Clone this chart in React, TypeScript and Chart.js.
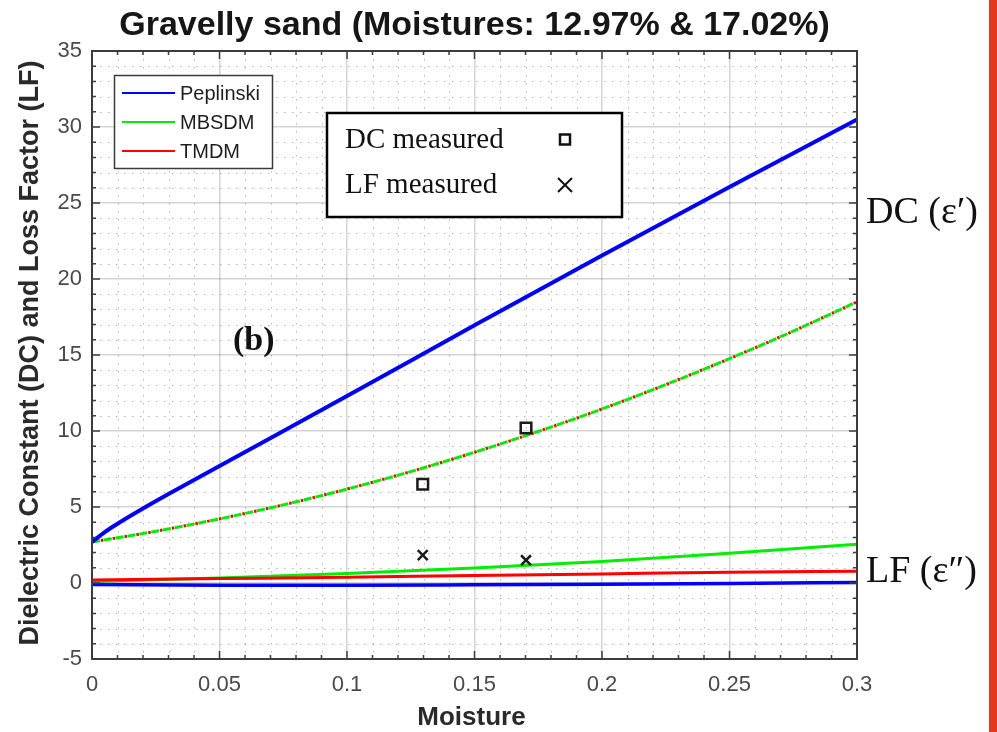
import React, { useEffect, useRef } from "react";
import { Chart, registerables } from "chart.js";

Chart.register(...registerables);

// ---------- data ----------
const titleText = "Gravelly sand (Moistures: 12.97% & 17.02%)";
const xAxisTitle = "Moisture";
const yAxisTitle = "Dielectric Constant (DC) and Loss Factor (LF)";

const xTicksMajor = [0, 0.05, 0.1, 0.15, 0.2, 0.25, 0.3];
const yTicksMajor = [-5, 0, 5, 10, 15, 20, 25, 30, 35];

const seriesNames = ["Peplinski", "MBSDM", "TMDM"];
const seriesColors = ["#0000ff", "#00ee00", "#ff0000"];

// DC (real part) curves
const moisturePeplinskiDC = [0, 0.005, 0.01, 0.02, 0.03, 0.05, 0.1, 0.15, 0.2, 0.25, 0.3];
const peplinskiDC = [2.7, 3.35, 3.9, 4.9, 5.85, 7.7, 12.3, 16.95, 21.55, 26.05, 30.5];

const moistureModelDC = [0, 0.025, 0.05, 0.075, 0.1, 0.125, 0.15, 0.175, 0.2, 0.225, 0.25, 0.275, 0.3];
const mbsdmDC = [2.7, 3.4, 4.22, 5.14, 6.18, 7.33, 8.6, 9.97, 11.45, 13.05, 14.76, 16.57, 18.5];
const tmdmDC = [2.7, 3.4, 4.22, 5.14, 6.18, 7.33, 8.6, 9.97, 11.45, 13.05, 14.76, 16.57, 18.5];

// LF (imaginary part) curves
const moistureLF = [0, 0.05, 0.1, 0.15, 0.2, 0.25, 0.3];
const peplinskiLF = [-0.1, -0.15, -0.15, -0.12, -0.08, -0.03, 0.03];
const mbsdmLF = [0.1, 0.33, 0.62, 0.98, 1.42, 1.95, 2.55];
const tmdmLF = [0.2, 0.29, 0.38, 0.5, 0.6, 0.7, 0.78];

// measured points
const measuredMoisture = [0.1297, 0.1702];
const measuredDC = [6.5, 10.2];
const measuredLF = [1.83, 1.5];
const measuredNames = ["DC measured", "LF measured"];

const panelLabel = "(b)";
const dcSideLabel = "DC (\u03b5\u2032)";
const lfSideLabel = "LF (\u03b5\u2033)";

// ---------- helpers ----------
const pts = (xs: number[], ys: number[]) => xs.map((x, i) => ({ x, y: ys[i] }));
const SANS = '"Liberation Sans", Arial, Helvetica, sans-serif';
const SERIF = '"Liberation Serif", "Times New Roman", serif';
const AXIS_COLOR = "#3c3c3c";

const decorPlugin = {
  id: "matlabDecor",
  beforeDraw(chart: any) {
    const ctx = chart.ctx;
    ctx.save();
    ctx.fillStyle = "#ffffff";
    ctx.fillRect(0, 0, chart.width, chart.height);
    ctx.restore();
  },
  beforeDatasetsDraw(chart: any) {
    const { ctx, chartArea: a, scales } = chart;
    const xs = scales.x;
    const ys = scales.y;
    ctx.save();
    ctx.strokeStyle = "rgba(90,90,90,0.45)";
    ctx.lineWidth = 1;
    ctx.setLineDash([1.5, 6.5]);
    for (let i = 1; i < 30; i++) {
      if (i % 5 === 0) continue;
      const px = Math.round(xs.getPixelForValue(i / 100)) + 0.5;
      ctx.beginPath();
      ctx.moveTo(px, a.top);
      ctx.lineTo(px, a.bottom);
      ctx.stroke();
    }
    for (let v = -4; v < 35; v++) {
      if (v % 5 === 0) continue;
      const py = Math.round(ys.getPixelForValue(v)) + 0.5;
      ctx.beginPath();
      ctx.moveTo(a.left, py);
      ctx.lineTo(a.right, py);
      ctx.stroke();
    }
    ctx.restore();
  },
  afterDatasetsDraw(chart: any) {
    const { ctx, chartArea: a, scales } = chart;
    const xs = scales.x;
    const ys = scales.y;
    ctx.save();
    ctx.strokeStyle = AXIS_COLOR;
    ctx.lineWidth = 1.5;
    for (let i = 0; i <= 30; i++) {
      const px = xs.getPixelForValue(i / 100);
      const len = i % 5 === 0 ? 8 : 4;
      ctx.beginPath();
      ctx.moveTo(px, a.bottom);
      ctx.lineTo(px, a.bottom - len);
      ctx.moveTo(px, a.top);
      ctx.lineTo(px, a.top + len);
      ctx.stroke();
    }
    for (let v = -5; v <= 35; v++) {
      const py = ys.getPixelForValue(v);
      const len = v % 5 === 0 ? 8 : 4;
      ctx.beginPath();
      ctx.moveTo(a.left, py);
      ctx.lineTo(a.left + len, py);
      ctx.moveTo(a.right, py);
      ctx.lineTo(a.right - len, py);
      ctx.stroke();
    }
    ctx.lineWidth = 2;
    ctx.strokeRect(a.left, a.top, a.right - a.left, a.bottom - a.top);
    ctx.restore();
  },
  afterDraw(chart: any) {
    const { ctx, chartArea: a } = chart;
    const cx = (a.left + a.right) / 2;
    ctx.save();
    // title
    ctx.fillStyle = "#161616";
    ctx.font = `bold 34px ${SANS}`;
    ctx.textAlign = "center";
    ctx.textBaseline = "middle";
    ctx.fillText(titleText, cx, 26);
    // x title
    ctx.font = `bold 26px ${SANS}`;
    ctx.fillStyle = "#2a2a2a";
    ctx.fillText(xAxisTitle, cx - 3, 718);
    // y title
    ctx.save();
    ctx.font = `bold 27px ${SANS}`;
    ctx.translate(31, (a.top + a.bottom) / 2 - 2);
    ctx.rotate(-Math.PI / 2);
    ctx.fillText(yAxisTitle, 0, 0);
    ctx.restore();

    // legend 1
    ctx.fillStyle = "#ffffff";
    ctx.fillRect(114, 75, 158, 93);
    ctx.strokeStyle = "#3a3a3a";
    ctx.lineWidth = 1.5;
    ctx.strokeRect(114.5, 75.5, 158, 93);
    const ly = [93, 122, 151];
    ctx.font = `20px ${SANS}`;
    ctx.textAlign = "left";
    ctx.textBaseline = "middle";
    seriesNames.forEach((n, i) => {
      ctx.strokeStyle = seriesColors[i];
      ctx.lineWidth = 2;
      ctx.beginPath();
      ctx.moveTo(122, ly[i]);
      ctx.lineTo(175, ly[i]);
      ctx.stroke();
      ctx.fillStyle = "#1e1e1e";
      ctx.fillText(n, 180, ly[i] + 1);
    });

    // legend 2
    ctx.fillStyle = "#ffffff";
    ctx.fillRect(327, 113, 295, 104);
    ctx.strokeStyle = "#000000";
    ctx.lineWidth = 2.5;
    ctx.strokeRect(327, 113, 295, 104);
    ctx.font = `29px ${SERIF}`;
    ctx.fillStyle = "#111111";
    ctx.fillText(measuredNames[0], 345, 140);
    ctx.fillText(measuredNames[1], 345, 185);
    ctx.lineWidth = 2.5;
    ctx.strokeStyle = "#111111";
    ctx.strokeRect(560, 134.5, 10, 10);
    ctx.lineWidth = 2;
    ctx.beginPath();
    ctx.moveTo(558, 178);
    ctx.lineTo(572, 192);
    ctx.moveTo(572, 178);
    ctx.lineTo(558, 192);
    ctx.stroke();

    // panel label
    ctx.font = `bold 34px ${SERIF}`;
    ctx.fillStyle = "#111111";
    ctx.fillText(panelLabel, 233, 341);

    // side labels
    ctx.font = `38px ${SERIF}`;
    ctx.fillText(dcSideLabel, 866, 213);
    ctx.fillText(lfSideLabel, 866, 572);

    // red edge bar
    ctx.fillStyle = "#e3381c";
    ctx.fillRect(989, 0, 8, 732);
    ctx.restore();
  },
};

export default function App() {
  const ref = useRef<HTMLCanvasElement | null>(null);

  useEffect(() => {
    if (!ref.current) return;
    const lineDs = (label: string, data: any[], color: string, width: number, order: number, extra: any = {}) => ({
      label,
      data,
      showLine: true,
      borderColor: color,
      backgroundColor: color,
      borderWidth: width,
      pointRadius: 0,
      cubicInterpolationMode: "monotone",
      order,
      ...extra,
    });
    const chart = new Chart(ref.current, {
      type: "scatter",
      data: {
        datasets: [
          {
            label: measuredNames[0],
            data: pts(measuredMoisture, measuredDC),
            pointStyle: "rect",
            pointRadius: 7.5,
            borderColor: "#1a1a1a",
            backgroundColor: "rgba(0,0,0,0)",
            borderWidth: 2.5,
            showLine: false,
            order: 0,
          } as any,
          {
            label: measuredNames[1],
            data: pts(measuredMoisture, measuredLF),
            pointStyle: "crossRot",
            pointRadius: 7,
            borderColor: "#1a1a1a",
            backgroundColor: "#1a1a1a",
            borderWidth: 2.5,
            showLine: false,
            order: 1,
          } as any,
          lineDs(seriesNames[0] + " DC", pts(moisturePeplinskiDC, peplinskiDC), seriesColors[0], 4, 2),
          lineDs(seriesNames[2] + " DC", pts(moistureModelDC, tmdmDC), seriesColors[2], 3, 3, { borderDash: [2.5, 9.5], borderDashOffset: 3 }),
          lineDs(seriesNames[1] + " DC", pts(moistureModelDC, mbsdmDC), seriesColors[1], 3, 4, { borderDash: [8, 4] }),
          lineDs(seriesNames[0] + " LF", pts(moistureLF, peplinskiLF), seriesColors[0], 3.5, 5),
          lineDs(seriesNames[2] + " LF", pts(moistureLF, tmdmLF), seriesColors[2], 3, 6),
          lineDs(seriesNames[1] + " LF", pts(moistureLF, mbsdmLF), seriesColors[1], 3, 7),
        ],
      },
      options: {
        responsive: false,
        animation: false,
        devicePixelRatio: 1,
        layout: { padding: { top: 51, right: 140, left: 0, bottom: 0 } },
        plugins: { legend: { display: false }, tooltip: { enabled: false }, title: { display: false } },
        scales: {
          x: {
            type: "linear",
            min: 0,
            max: 0.3,
            afterFit: (s: any) => {
              s.height = 73;
            },
            afterBuildTicks: (s: any) => {
              s.ticks = xTicksMajor.map((v) => ({ value: v }));
            },
            ticks: {
              font: { family: SANS, size: 22 },
              color: "#4a4a4a",
              padding: 13,
              maxRotation: 0,
              callback: (v: any) => String(Number(Number(v).toFixed(2))),
            },
            grid: { color: "rgba(0,0,0,0.17)", lineWidth: 1.5, drawTicks: false },
            border: { display: false },
          },
          y: {
            type: "linear",
            min: -5,
            max: 35,
            afterFit: (s: any) => {
              s.width = 92;
            },
            afterBuildTicks: (s: any) => {
              s.ticks = yTicksMajor.map((v) => ({ value: v }));
            },
            ticks: {
              font: { family: SANS, size: 22 },
              color: "#4a4a4a",
              padding: 10,
              callback: (v: any) => String(v),
            },
            grid: { color: "rgba(0,0,0,0.17)", lineWidth: 1.5, drawTicks: false },
            border: { display: false },
          },
        },
      },
      plugins: [decorPlugin],
    } as any);
    return () => chart.destroy();
  }, []);

  return (
    <div style={{ position: "absolute", left: 0, top: 0, width: 997, height: 732, background: "#fff" }}>
      <canvas ref={ref} width={997} height={732} style={{ display: "block" }} />
    </div>
  );
}
